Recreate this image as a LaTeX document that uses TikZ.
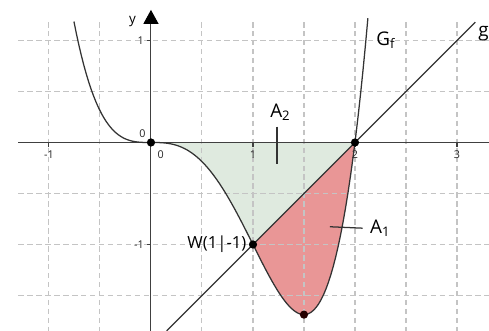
\documentclass[tikz,border=0pt]{standalone}
\usepackage{fontspec}
\setmainfont{Open Sans}
\usetikzlibrary{arrows.meta}
\definecolor{gridgray}{HTML}{C4C4C4}
\definecolor{areagreen}{HTML}{DFEADF}
\definecolor{areared}{HTML}{E99696}
\definecolor{curvegray}{HTML}{333333}
\tikzset{
  gridline/.style={gridgray, dash pattern=on 3pt off 2pt, line width=0.6pt},
  axisline/.style={black!75, line width=0.6pt},
  graphline/.style={curvegray, line width=0.7pt},
  dot/.style={circle, fill=black, inner sep=0pt, minimum size=4.6pt},
  ticklabel/.style={font=\fontsize{6}{7}\selectfont, text=black!85, inner sep=1pt},
  arealabel/.style={font=\fontsize{10.5}{12}\selectfont, inner sep=1pt}
}
\begin{document}
\begin{tikzpicture}[x=2cm,y=2cm]
  \useasboundingbox (-1.48,-1.848) rectangle (3.314,1.397);
  % areas
  \fill[areagreen] (0,0) -- plot[domain=0:1,samples=40] (\x,{\x*\x*\x*\x-2*\x*\x*\x}) -- (2,0) -- cycle;
  \fill[areared] plot[domain=1:2,samples=40] (\x,{\x*\x*\x*\x-2*\x*\x*\x}) -- cycle;
  % grid
  \foreach \i in {-1,-0.5,0.5,1,1.5,2,2.5,3} \draw[gridline] (\i,1.18) -- (\i,-1.848);
  \foreach \j in {1,0.5,-0.5,-1,-1.5} \draw[gridline] (-1.3,\j) -- (3.314,\j);
  % axes
  \draw[axisline] (-1.3,0) -- (3.314,0);
  \draw[axisline, -{Triangle[width=8.4pt,length=7.8pt,black]}] (0,-1.848) -- (0,1.30);
  \foreach \i in {-1,1,2,3} {
    \draw[axisline] (\i,0) -- (\i,-0.04);
    \node[ticklabel] at (\i,-0.12) {\i};
  }
  \foreach \j in {1,-1} {
    \draw[axisline] (0,\j) -- (-0.04,\j);
    \node[ticklabel, anchor=east] at (-0.05,\j) {\j};
  }
  \node[ticklabel] (zerox) at (0.095,-0.12) {0};
  \node[font=\fontsize{7.5}{8}\selectfont] (ylabel) at (-0.18,1.19) {y};
  % g and G_f
  \draw[graphline] (0.154,-1.846) -- (3.18,1.18);
  \draw[graphline] plot[domain=-0.755:2.127,samples=120] (\x,{\x*\x*\x*\x-2*\x*\x*\x});
  % points
  \node[dot] (origin) at (0,0) {};
  \node[dot] (root) at (2,0) {};
  \node[dot] (wpoint) at (1,-1) {};
  \node[dot, fill=black!85!red] (minpoint) at (1.5,-1.6875) {};
  \node[ticklabel, anchor=south east] at (origin.north west) {0};
  \node[font=\fontsize{9.3}{10}\selectfont, anchor=east, inner sep=1pt] (wlabel) at (wpoint.west) {W(1|-1)};
  % labels
  \node[arealabel, anchor=west] (gflabel) at (2.19,1.0) {G\textsubscript{f}};
  \node[arealabel, anchor=west] (glabel) at (3.19,1.07) {g};
  \node[arealabel] (atwo) at (1.27,0.30) {A\textsubscript{2}};
  \coordinate (atwotip) at (1.235,-0.21);
  \draw[graphline] (1.235,0.155) -- (atwotip);
  \coordinate (aonetip) at (1.755,-0.826);
  \node[arealabel, anchor=west, inner sep=4pt] (aone) at (2.075,-0.84) {A\textsubscript{1}};
  \draw[graphline] (aonetip) -- (aone.west);
\end{tikzpicture}
\end{document}
